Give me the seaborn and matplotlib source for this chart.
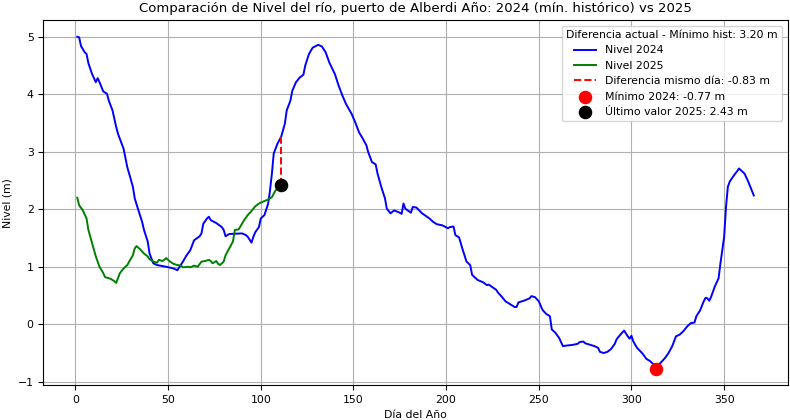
import matplotlib
matplotlib.use("Agg")
import matplotlib.pyplot as plt
import seaborn as sns
import pandas as pd

# Nivel del río 2024 (mínimo histórico)
dias_2024 = [1, 2, 3, 5, 6, 7, 9, 11, 12, 13, 15, 17, 18, 20, 22, 23, 26, 28, 29, 31,
             32, 34, 36, 37, 39, 40, 42, 44, 49, 53, 55, 56, 58, 60, 62, 64, 67, 68, 69, 71,
             72, 73, 76, 79, 80, 81, 83, 90, 92, 93, 95, 96, 97, 99, 100, 102, 104, 105, 106, 107,
             109, 111, 113, 114, 116, 117, 119, 121, 123, 124, 126, 128, 131, 133, 135, 137, 140, 142, 144, 146,
             149, 151, 153, 155, 157, 158, 160, 162, 163, 165, 167, 168, 170, 172, 175, 176, 177, 178, 181, 182,
             184, 187, 191, 193, 195, 198, 201, 202, 204, 205, 207, 209, 211, 213, 214, 217, 220, 222, 223, 227,
             228, 230, 232, 235, 237, 238, 239, 242, 245, 246, 248, 250, 252, 254, 256, 257, 259, 261, 263, 265,
             268, 271, 272, 274, 275, 278, 280, 282, 283, 285, 287, 289, 291, 292, 294, 296, 298, 299, 300, 301,
             303, 306, 308, 310, 312, 313, 316, 318, 320, 322, 324, 326, 328, 330, 332, 334, 335, 337, 339, 340,
             341, 342, 343, 345, 347, 348, 349, 350, 351, 352, 353, 354, 356, 357, 358, 361, 363, 366]
nivel_2024 = [5.00, 4.99, 4.84, 4.73, 4.70, 4.54, 4.35, 4.21, 4.28, 4.21, 4.05, 4.01, 3.89, 3.72, 3.43, 3.31, 3.05, 2.73, 2.62, 2.39,
              2.19, 1.98, 1.78, 1.64, 1.44, 1.23, 1.06, 1.03, 1.00, 0.97, 0.94, 0.99, 1.09, 1.20, 1.29, 1.46, 1.53, 1.58, 1.75, 1.84,
              1.87, 1.81, 1.76, 1.69, 1.64, 1.53, 1.57, 1.58, 1.55, 1.52, 1.42, 1.52, 1.60, 1.69, 1.84, 1.90, 2.10, 2.33, 2.62, 2.97,
              3.14, 3.26, 3.49, 3.72, 3.89, 4.06, 4.21, 4.29, 4.34, 4.50, 4.70, 4.81, 4.86, 4.83, 4.73, 4.55, 4.35, 4.15, 3.98, 3.83,
              3.66, 3.51, 3.34, 3.23, 3.11, 2.99, 2.82, 2.78, 2.62, 2.39, 2.19, 2.01, 1.93, 1.98, 1.94, 1.92, 2.10, 2.01, 1.94, 2.04,
              2.03, 1.93, 1.84, 1.78, 1.74, 1.72, 1.67, 1.69, 1.70, 1.55, 1.51, 1.29, 1.09, 1.03, 0.86, 0.77, 0.73, 0.68, 0.69, 0.60,
              0.55, 0.48, 0.40, 0.34, 0.30, 0.30, 0.38, 0.41, 0.45, 0.49, 0.47, 0.40, 0.25, 0.18, 0.14, -0.09, -0.15, -0.24, -0.38, -0.37,
              -0.36, -0.34, -0.31, -0.30, -0.33, -0.36, -0.38, -0.41, -0.48, -0.50, -0.48, -0.43, -0.34, -0.26, -0.18, -0.11, -0.21, -0.25, -0.20, -0.30,
              -0.41, -0.51, -0.60, -0.64, -0.70, -0.77, -0.66, -0.59, -0.50, -0.38, -0.21, -0.18, -0.12, -0.04, 0.02, 0.03, 0.14, 0.24, 0.40, 0.46,
              0.45, 0.41, 0.48, 0.66, 0.80, 1.06, 1.29, 1.52, 2.04, 2.39, 2.48, 2.53, 2.62, 2.66, 2.71, 2.62, 2.48, 2.24]

# Nivel del río 2025 (hasta el último dato disponible)
dias_2025 = [1, 2, 4, 6, 7, 9, 11, 13, 15, 16, 19, 21, 22, 24, 26, 28, 29, 31, 32, 33,
             35, 37, 39, 40, 42, 44, 45, 47, 49, 51, 53, 55, 57, 58, 61, 62, 64, 66, 68, 70,
             72, 73, 74, 76, 77, 78, 80, 81, 83, 85, 86, 88, 89, 91, 93, 95, 97, 99, 101, 104,
             106, 108, 111]
nivel_2025 = [2.20, 2.07, 1.98, 1.84, 1.64, 1.41, 1.18, 1.00, 0.89, 0.82, 0.79, 0.75, 0.72, 0.89, 0.97, 1.03, 1.09, 1.20, 1.32, 1.36,
              1.30, 1.23, 1.18, 1.13, 1.09, 1.07, 1.12, 1.10, 1.15, 1.09, 1.05, 1.03, 1.02, 0.99, 1.00, 0.99, 1.02, 1.00, 1.09, 1.10,
              1.12, 1.10, 1.06, 1.10, 1.05, 1.03, 1.09, 1.20, 1.32, 1.44, 1.64, 1.65, 1.70, 1.81, 1.90, 1.97, 2.05, 2.10, 2.13, 2.17,
              2.21, 2.33, 2.43]

df24 = pd.DataFrame({"dia": dias_2024, "nivel": nivel_2024})
df25 = pd.DataFrame({"dia": dias_2025, "nivel": nivel_2025})

# valores derivados
ultimo = df25.iloc[-1]
mismo_dia_2024 = df24.loc[df24["dia"] == ultimo["dia"], "nivel"].iloc[0]
dif_mismo_dia = ultimo["nivel"] - mismo_dia_2024
minimo = df24.loc[df24["nivel"].idxmin()]
dif_minimo = ultimo["nivel"] - minimo["nivel"]

plt.rcParams["font.family"] = ["DejaVu Sans"]
plt.rcParams["font.size"] = 7.8

fig, ax = plt.subplots(figsize=(7.9, 4.2), dpi=100)
fig.subplots_adjust(left=0.055, right=0.997, top=0.952, bottom=0.083)

sns.lineplot(data=df24, x="dia", y="nivel", color="blue", linewidth=1.4,
             label="Nivel 2024", ax=ax)
sns.lineplot(data=df25, x="dia", y="nivel", color="green", linewidth=1.4,
             label="Nivel 2025", ax=ax)
ax.plot([ultimo["dia"], ultimo["dia"]], [ultimo["nivel"], mismo_dia_2024],
        color="red", linestyle="--", linewidth=1.4,
        label=f"Diferencia mismo día: {dif_mismo_dia:.2f} m")
sns.scatterplot(x=[minimo["dia"]], y=[minimo["nivel"]], color="red", s=95,
                linewidth=0, zorder=5, label=f"Mínimo 2024: {minimo['nivel']:.2f} m", ax=ax)
sns.scatterplot(x=[ultimo["dia"]], y=[ultimo["nivel"]], color="black", s=95,
                linewidth=0, zorder=5, label=f"Último valor 2025: {ultimo['nivel']:.2f} m", ax=ax)

ax.set_title("Comparación de Nivel del río, puerto de Alberdi Año: 2024 (mín. histórico) vs 2025",
             fontsize=9.5)
ax.set_xlabel("Día del Año")
ax.set_ylabel("Nivel (m)")
ax.grid(True)
ax.legend(title=f"Diferencia actual - Mínimo hist: {dif_minimo:.2f} m",
          loc="upper right", fontsize=7.8, title_fontsize=7.8)

fig.savefig("out.png", dpi=100)
